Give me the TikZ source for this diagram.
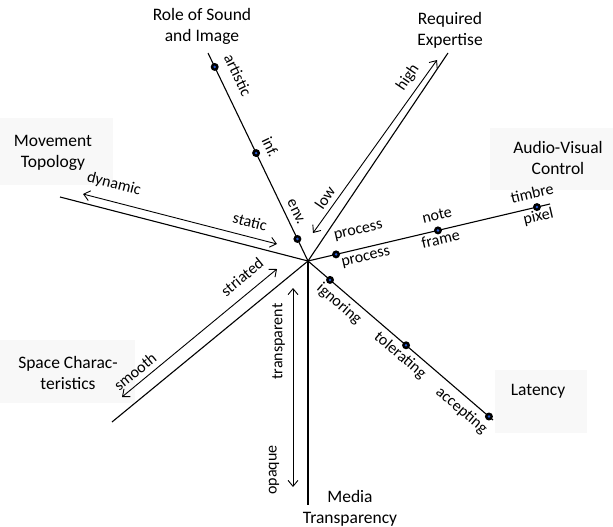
\documentclass[tikz,border=0pt]{standalone}
\usepackage{fontspec}
\setmainfont{Carlito}
\usetikzlibrary{calc,arrows.meta}
\definecolor{dotblue}{RGB}{40,90,210}
\definecolor{bgfaint}{RGB}{248,248,248}
\begin{document}
\begin{tikzpicture}[x=1pt,y=-1pt,
  axis/.style={line width=1.1pt},
  dbl/.style={line width=0.9pt,{Straight Barb[length=6pt,width=10pt]}-{Straight Barb[length=6pt,width=10pt]}},
  dot/.style={circle,fill=black,inner sep=0pt,minimum size=8pt,
    path picture={\fill[dotblue] (path picture bounding box.center) circle (1.4pt);}},
  lab/.style={font=\fontsize{16}{19}\selectfont,inner sep=0pt},
  ttl/.style={font=\fontsize{17.5}{21}\selectfont,align=center,inner sep=0pt},
  titlebg/.style={fill=bgfaint}]
\useasboundingbox (0,0) rectangle (613,527);
% faint title backgrounds
\fill[titlebg] (490,128) rectangle (613,190);
\fill[titlebg] (0,118) rectangle (113,185);
\fill[titlebg] (495,370) rectangle (587,433);
\fill[titlebg] (0,340) rectangle (135,403);
% axes
\coordinate (C) at (308,261);
\coordinate (R) at (208,53);
\coordinate (E) at (448,53);
\coordinate (A) at (550,204);
\coordinate (L) at (493,420);
\coordinate (M) at (308,505);
\coordinate (S) at (112,422);
\coordinate (T) at (60,197);
\draw[axis] (C) -- (R);
\draw[axis] (C) -- (E);
\draw[axis] (C) -- (A);
\draw[axis] (C) -- (L);
\draw[axis] (C) -- (M);
\draw[axis] (C) -- (S);
\draw[axis] (C) -- (T);
% double arrows
\coordinate (E1) at (313,233); \coordinate (E2) at (437,60);
\coordinate (T1) at (277,244); \coordinate (T2) at (83,194);
\coordinate (S1) at (277,269); \coordinate (S2) at (122,397);
\coordinate (M1) at (293,288); \coordinate (M2) at (293,487);
\draw[dbl] (E1) -- (E2);
\draw[dbl] (T1) -- (T2);
\draw[dbl] (S1) -- (S2);
\draw[dbl] (M1) -- (M2);
% dots
\node[dot] (dart) at ($(C)!0.933!(R)$) {};
\node[dot] (dinf) at ($(C)!0.519!(R)$) {};
\node[dot] (denv) at ($(C)!0.106!(R)$) {};
\node[dot] (dproc) at ($(C)!0.116!(A)$) {};
\node[dot] (dnote) at ($(C)!0.537!(A)$) {};
\node[dot] (dtimb) at ($(C)!0.946!(A)$) {};
\node[dot] (dign) at ($(C)!0.119!(L)$) {};
\node[dot] (dtol) at ($(C)!0.53!(L)$) {};
\node[dot] (dacc) at ($(C)!0.978!(L)$) {};
% axis labels
\node[lab,rotate=-64.3] (lart) at (238,75) {artistic};
\node[lab,rotate=-64.3] (linf) at (270.5,147) {inf.};
\node[lab,rotate=-64.3] (lenv) at (296,212) {env.};
\node[lab,rotate=56] (llow) at (325,198) {low};
\node[lab,rotate=56] (lhigh) at (408,78) {high};
\node[lab,rotate=13] (lproc1) at (358.5,231.5) {process};
\node[lab,rotate=13] (lnote) at (437,215.5) {note};
\node[lab,rotate=13] (ltimb) at (532,193) {timbre};
\node[lab,rotate=13] (lproc2) at (366,258) {process};
\node[lab,rotate=13] (lframe) at (440.5,239) {frame};
\node[lab,rotate=13] (lpix) at (538.5,217) {pixel};
\node[lab,rotate=-40.7] (lign) at (339,304) {ignoring};
\node[lab,rotate=-40.7] (ltol) at (400,355.5) {tolerating};
\node[lab,rotate=-40.7] (lacc) at (461.5,410.5) {accepting};
\node[lab,rotate=90] (ltra) at (278.5,341.5) {transparent};
\node[lab,rotate=90] (lopa) at (274,470) {opaque};
\node[lab,rotate=39.4] (lstr) at (242,277) {striated};
\node[lab,rotate=39.4] (lsmo) at (135,371.5) {smooth};
\node[lab,rotate=-14.5] (ldyn) at (114,184) {dynamic};
\node[lab,rotate=-14.5] (lsta) at (250,221.5) {static};
% titles
\node[ttl] (role) at (202,26) {Role of Sound\\and Image};
\node[ttl] (expt) at (450,30) {Required\\Expertise};
\node[ttl] (avc) at (558,158) {Audio-Visual\\Control};
\node[ttl] (movt) at (53,153) {Movement\\Topology};
\node[ttl] (spc) at (68,373) {Space Charac-\\teristics};
\node[ttl] (lat) at (538,391) {Latency};
\node[ttl] (med) at (350,508) {Media\\Transparency};
\end{tikzpicture}
\end{document}
